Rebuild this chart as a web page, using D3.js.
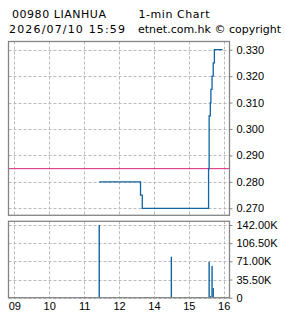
<!DOCTYPE html>
<html>
<head>
<meta charset="utf-8">
<script src="https://cdn.jsdelivr.net/npm/d3@7"></script>
<style>
  body { margin: 0; background: #fff; }
  svg { display: block; }
  text { fill: #000; }
</style>
</head>
<body>
<div id="chart"></div>
<script>
// header text
const title = "00980 LIANHUA";
const chartType = "1-min Chart";
const stamp = "2026/07/10 15:59";
const credit = "etnet.com.hk \u00a9 copyright";

// price series (step after), HH:MM
const priceTimes = ["11:26", "13:37", "13:40", "15:34", "15:35", "15:37", "15:38", "15:40", "15:42", "15:44", "15:58"];
const prices = [0.280, 0.275, 0.270, 0.285, 0.305, 0.310, 0.315, 0.320, 0.325, 0.330, 0.330];
const prevClose = 0.285;

// volume bars
const volTimes = ["11:26", "14:30", "15:35", "15:37", "15:40", "15:42"];
const volumes = [142000, 80000, 70000, 3000, 62000, 19000];

// axes
const hourTicks = ["09:00", "10:00", "11:00", "12:00", "14:00", "15:00", "16:00"];
const hourLabels = ["09", "10", "11", "12", "14", "15", "16"];
const priceTicks = [0.270, 0.280, 0.290, 0.300, 0.310, 0.320, 0.330];
const volTicks = [0, 35500, 71000, 106500, 142000];
const volLabels = ["0", "35.50K", "71.00K", "106.50K", "142.00K"];

const width = 285, height = 318;
const left = 8.5, right = 229.5;
const main = { top: 41.5, bottom: 215.3 };
const vol = { top: 221.3, bottom: 297.7 };

// minutes from 09:00 with lunch hour taken out
const toMin = s => {
  const [h, m] = s.split(":").map(Number);
  return h * 60 + m - 540 - (h >= 13 ? 60 : 0);
};

const svg = d3.select("#chart").append("svg").attr("width", width).attr("height", height);

const x = d3.scaleLinear().domain([-10, 370]).range([left, right]);
const y = d3.scaleLinear().domain([0.26735, 0.3331]).range([main.bottom, main.top]);
const yv = d3.scaleLinear().domain([0, 149200]).range([vol.bottom, vol.top]);

const font = "'Liberation Sans', Arial, sans-serif";

// header
const head = svg.append("g").attr("font-family", "'DejaVu Sans', sans-serif").attr("font-size", 11);
head.append("text").attr("x", 12).attr("y", 18).attr("textLength", 94).text(title);
head.append("text").attr("x", 138.5).attr("y", 18).attr("textLength", 71).text(chartType);
head.append("text").attr("x", 9).attr("y", 33).attr("textLength", 116).text(stamp);
head.append("text").attr("x", 138).attr("y", 33).attr("textLength", 143).text(credit);

const gridColor = "#bbbbbb";

function panel(top, bottom, yScale, ticks) {
  const g = svg.append("g");
  g.selectAll(".vg")
    .data(hourTicks)
    .join("line")
    .attr("x1", d => Math.round(x(toMin(d))) + 0.5)
    .attr("x2", d => Math.round(x(toMin(d))) + 0.5)
    .attr("y1", top)
    .attr("y2", bottom)
    .attr("stroke", gridColor)
    .attr("stroke-dasharray", "3,2");
  g.selectAll(".hg")
    .data(ticks)
    .join("line")
    .attr("x1", left)
    .attr("x2", right)
    .attr("y1", d => Math.round(yScale(d)) + 0.5)
    .attr("y2", d => Math.round(yScale(d)) + 0.5)
    .attr("stroke", gridColor)
    .attr("stroke-dasharray", "3,2");
  return g;
}

panel(main.top, main.bottom, y, priceTicks);
panel(vol.top, vol.bottom, yv, volTicks);

// previous close
svg.append("line")
  .attr("x1", left).attr("x2", right)
  .attr("y1", y(prevClose)).attr("y2", y(prevClose))
  .attr("stroke", "#dc2878").attr("stroke-width", 1);

// price line
const pts = priceTimes.map((t, i) => [toMin(t), prices[i]]);
svg.append("path")
  .datum(pts)
  .attr("fill", "none")
  .attr("stroke", "#1064a3")
  .attr("stroke-width", 1.3)
  .attr("d", d3.line().x(d => x(d[0])).y(d => y(d[1])).curve(d3.curveStepAfter));

// volume bars
svg.selectAll(".bar")
  .data(volTimes.map((t, i) => [toMin(t), volumes[i]]))
  .join("rect")
  .attr("x", d => x(d[0]) - 0.7)
  .attr("width", 1.4)
  .attr("y", d => yv(d[1]))
  .attr("height", d => yv(0) - yv(d[1]))
  .attr("fill", "#1064a3");

// panel borders
[main, vol].forEach(p => {
  svg.append("rect")
    .attr("x", left).attr("y", p.top)
    .attr("width", right - left).attr("height", p.bottom - p.top)
    .attr("fill", "none").attr("stroke", "#858585").attr("stroke-width", 1.3);
});

// right axes
const yAxis = svg.append("g")
  .attr("transform", `translate(${right},0)`)
  .call(d3.axisRight(y).tickValues(priceTicks).tickFormat(d3.format(".3f")).tickSize(3).tickPadding(4));
const vAxis = svg.append("g")
  .attr("transform", `translate(${right},0)`)
  .call(d3.axisRight(yv).tickValues(volTicks).tickFormat((d, i) => volLabels[i]).tickSize(3).tickPadding(4));
[yAxis, vAxis].forEach(a => {
  a.select(".domain").remove();
  a.selectAll(".tick line").attr("stroke", "#858585");
  a.selectAll("text").attr("font-family", font).attr("font-size", 11).attr("fill", "#000");
});

// bottom axis
const xAxis = svg.append("g")
  .attr("transform", `translate(0,${vol.bottom})`)
  .call(d3.axisBottom(x).tickValues(hourTicks.map(toMin)).tickFormat((d, i) => hourLabels[i]).tickSize(0).tickPadding(5));
xAxis.select(".domain").remove();
xAxis.selectAll("text").attr("font-family", font).attr("font-size", 11).attr("fill", "#000");
</script>
</body>
</html>
